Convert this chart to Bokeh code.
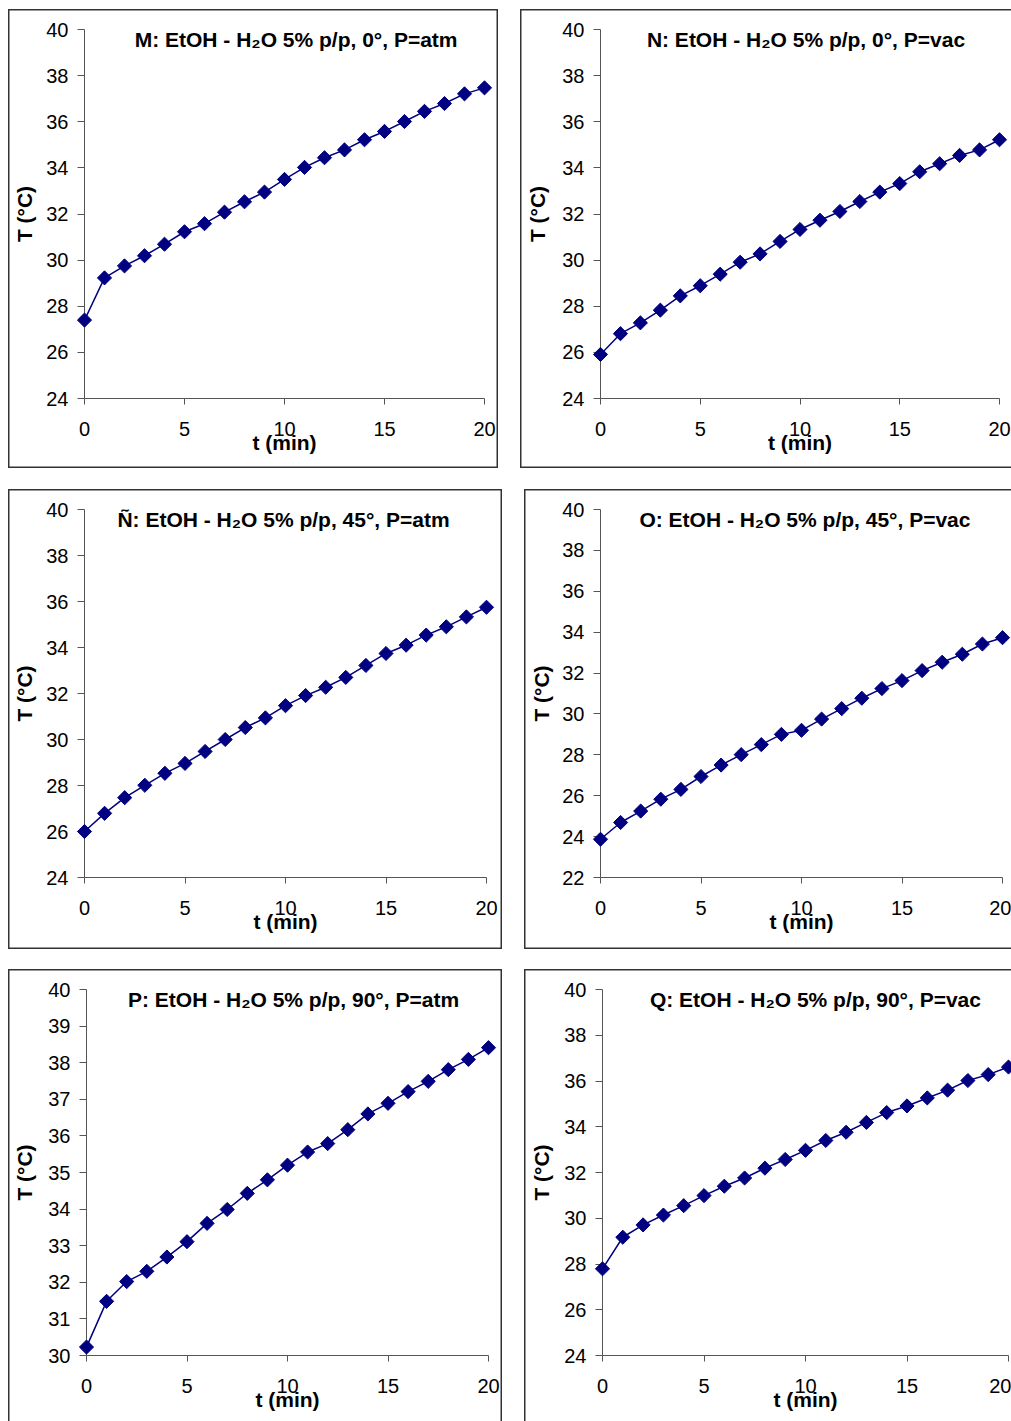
import math
from bokeh.plotting import figure
from bokeh.layouts import column, row
from bokeh.models import Range1d, Label, Spacer, FixedTicker
from bokeh.embed import file_html
from bokeh.resources import INLINE

# ---------------- data ----------------
t_min = list(range(21))

T_M = [27.40, 29.23, 29.75, 30.19, 30.69, 31.23, 31.58, 32.08, 32.53, 32.95, 33.50,
       34.02, 34.44, 34.78, 35.22, 35.58, 36.01, 36.45, 36.79, 37.21, 37.47]
T_N = [25.91, 26.81, 27.28, 27.83, 28.45, 28.89, 29.39, 29.91, 30.27, 30.81, 31.33,
       31.73, 32.11, 32.54, 32.95, 33.32, 33.83, 34.18, 34.54, 34.78, 35.22]
T_NN = [26.00, 26.79, 27.47, 28.01, 28.53, 28.96, 29.48, 30.00, 30.52, 30.94, 31.47,
        31.91, 32.27, 32.70, 33.22, 33.74, 34.10, 34.54, 34.90, 35.33, 35.75]
T_O = [23.87, 24.69, 25.25, 25.83, 26.31, 26.94, 27.50, 28.01, 28.50, 29.00, 29.20,
       29.75, 30.26, 30.77, 31.24, 31.63, 32.12, 32.53, 32.92, 33.42, 33.73]
T_P = [30.23, 31.48, 32.02, 32.30, 32.69, 33.11, 33.61, 33.99, 34.43, 34.80, 35.20,
       35.56, 35.79, 36.17, 36.60, 36.89, 37.21, 37.49, 37.81, 38.09, 38.41]
T_Q = [27.79, 29.17, 29.71, 30.14, 30.55, 30.99, 31.40, 31.76, 32.19, 32.57, 32.97,
       33.40, 33.76, 34.19, 34.62, 34.91, 35.26, 35.60, 36.02, 36.28, 36.61]

titles = [
    "M: EtOH - H\u2082O 5% p/p, 0°, P=atm",
    "N: EtOH - H\u2082O 5% p/p, 0°, P=vac",
    "Ñ: EtOH - H\u2082O 5% p/p, 45°, P=atm",
    "O: EtOH - H\u2082O 5% p/p, 45°, P=vac",
    "P: EtOH - H\u2082O 5% p/p, 90°, P=atm",
    "Q: EtOH - H\u2082O 5% p/p, 90°, P=vac",
]
x_ticks = [0, 5, 10, 15, 20]
x_label = "t (min)"
y_label = "T (°C)"

# ---------------- style ----------------
FONT = "Liberation Sans"
NAVY = "#000080"
AXIS_COL = "#555555"
BC = "#333333"
S_L = f"inset 1.5px 0 0 {BC}"
S_T = f"inset 0 1.5px 0 {BC}"
S_R = f"inset -1.5px 0 0 {BC}"
S_B = f"inset 0 -1.5px 0 {BC}"


def make_panel(title, temps, ymin, ymax, ystep, w, h, bl, br, bt, bb,
               title_x, ylab_standoff, sides):
    p = figure(width=w, height=h,
               x_range=Range1d(0, 20), y_range=Range1d(ymin, ymax),
               min_border_left=bl, min_border_right=br,
               min_border_top=bt, min_border_bottom=bb,
               output_backend="svg", toolbar_location=None, tools="")
    p.grid.visible = False
    p.outline_line_color = None
    p.background_fill_alpha = 0
    p.border_fill_alpha = 0
    p.styles = {"box-shadow": ", ".join(sides)}

    for ax in (p.xaxis[0], p.yaxis[0]):
        ax.axis_line_color = AXIS_COL
        ax.axis_line_width = 1
        ax.major_tick_line_color = AXIS_COL
        ax.major_tick_in = 0
        ax.minor_tick_line_color = None
        ax.major_label_text_font = FONT
        ax.major_label_text_font_size = "20px"
        ax.major_label_text_color = "black"
        ax.axis_label_text_font = FONT
        ax.axis_label_text_font_size = "21px"
        ax.axis_label_text_font_style = "bold"
        ax.axis_label_text_color = "black"

    xa = p.xaxis[0]
    xa.ticker = FixedTicker(ticks=x_ticks)
    xa.major_tick_out = 6
    xa.major_label_standoff = 17
    xa.axis_label = x_label
    xa.axis_label_standoff = -8

    ya = p.yaxis[0]
    ya.ticker = FixedTicker(ticks=list(range(ymin, ymax + 1, ystep)))
    ya.major_tick_out = 7
    ya.major_label_standoff = 9
    ya.axis_label = y_label
    ya.axis_label_standoff = ylab_standoff

    p.line(t_min, temps, line_color=NAVY, line_width=1.5)
    p.scatter(t_min, temps, marker="square", angle=math.pi / 4, size=10,
              fill_color=NAVY, line_color=NAVY, level="overlay")

    frame_h = h - bt - bb
    ppu = frame_h / (ymax - ymin)
    p.add_layout(Label(x=title_x, y=ymax - 10 / ppu, text=title,
                       text_align="center", text_baseline="middle",
                       text_font=FONT, text_font_style="bold",
                       text_font_size="21px", text_color="black"))
    return p


ALL4 = [S_L, S_T, S_R, S_B]
pM = make_panel(titles[0], T_M, 24, 40, 2, 490, 459, 76, 14, 20, 70, 10.58, 7, ALL4)
pN = make_panel(titles[1], T_N, 24, 40, 2, 491, 459, 80, 12, 20, 70, 10.30, 10,
                [S_L, S_T, S_B])
pNN = make_panel(titles[2], T_NN, 24, 40, 2, 494, 460, 76, 16, 20, 71, 9.90, 7, ALL4)
pO = make_panel(titles[3], T_O, 22, 40, 2, 487, 460, 76, 9, 20, 72, 10.17, 6,
                [S_L, S_T, S_B])
pP = make_panel(titles[4], T_P, 30, 40, 1, 494, 452, 78, 14, 20, 66, 10.30, 9,
                [S_L, S_T, S_R])
pQ = make_panel(titles[5], T_Q, 24, 40, 2, 487, 452, 78, 3, 20, 61, 10.49, 8,
                [S_L, S_T])

root = column(
    Spacer(height=9),
    row(Spacer(width=8), pM, Spacer(width=22), pN),
    Spacer(height=21),
    row(Spacer(width=8), pNN, Spacer(width=22), pO),
    Spacer(height=20),
    row(Spacer(width=8), pP, Spacer(width=22), pQ),
)

open("out.html", "w").write(file_html(root, INLINE))
